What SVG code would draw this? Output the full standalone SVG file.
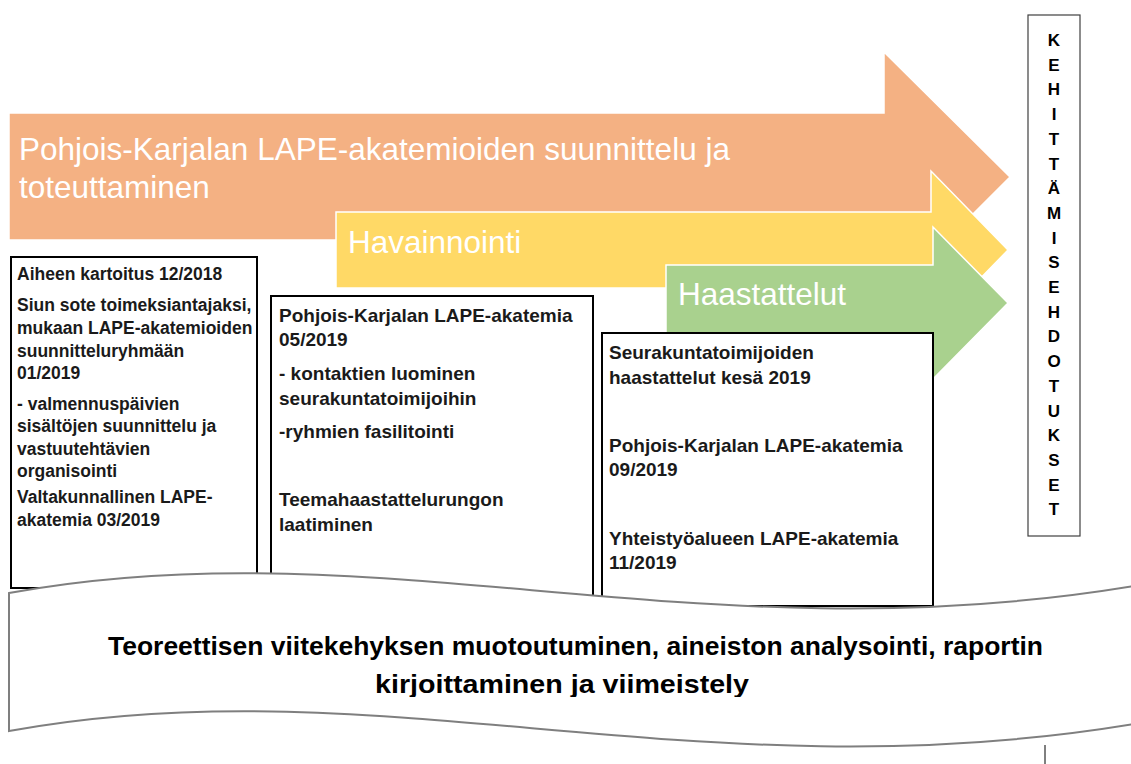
<svg xmlns="http://www.w3.org/2000/svg" width="1131" height="764" viewBox="0 0 1131 764">
  <style>
    .arrow { stroke: #ffffff; stroke-width: 1.5; }
    .atext { font-family: "Liberation Sans", Arial, sans-serif; font-size: 31.5px; fill: #ffffff; }
    .box { fill: #ffffff; stroke: #000000; stroke-width: 2; }
    .t1 { font-family: "Liberation Sans", Arial, sans-serif; font-weight: bold; font-size: 17.5px; fill: #1a1a1a; }
    .t2 { font-family: "Liberation Sans", Arial, sans-serif; font-weight: bold; font-size: 19px; fill: #1a1a1a; }
    .bt { font-family: "Liberation Sans", Arial, sans-serif; font-weight: bold; font-size: 25px; fill: #000000; }
    .vt { font-family: "Liberation Sans", Arial, sans-serif; font-weight: bold; font-size: 17px; fill: #000000; text-anchor: middle; }
  </style>
  <defs>
    <clipPath id="bannerClip">
      <rect x="0" y="600" width="1131" height="97"/>
    </clipPath>
  </defs>
  <rect x="0" y="0" width="1131" height="764" fill="#ffffff"/>

  <g id="arrow-orange">
    <path class="arrow" fill="#F4B183" d="M9,113 L884,113 L884,52 L1010,177 L884,303 L884,240 L9,240 Z"/>
    <text class="atext" x="19" y="160">Pohjois-Karjalan LAPE-akatemioiden suunnittelu ja</text>
    <text class="atext" x="19" y="198">toteuttaminen</text>
  </g>
  <g id="arrow-yellow">
    <path class="arrow" fill="#FFD966" d="M336,212 L931,212 L931,171 L1008,250 L931,329 L931,288 L336,288 Z"/>
    <text class="atext" x="348" y="253">Havainnointi</text>
  </g>
  <g id="arrow-green">
    <path class="arrow" fill="#A9D18E" d="M666,265 L933,265 L933,227 L1008,303 L933,379 L933,341 L666,341 Z"/>
    <text class="atext" x="678" y="305">Haastattelut</text>
  </g>

  <g id="box-1">
    <rect class="box" x="11" y="257" width="246" height="331"/>
    <text class="t1" x="17" y="280">Aiheen kartoitus 12/2018</text>
    <text class="t1" x="17" y="311">Siun sote toimeksiantajaksi,</text>
    <text class="t1" x="17" y="334">mukaan LAPE-akatemioiden</text>
    <text class="t1" x="17" y="357">suunnitteluryhmään</text>
    <text class="t1" x="17" y="379">01/2019</text>
    <text class="t1" x="17" y="410">- valmennuspäivien</text>
    <text class="t1" x="17" y="432">sisältöjen suunnittelu ja</text>
    <text class="t1" x="17" y="455">vastuutehtävien</text>
    <text class="t1" x="17" y="477">organisointi</text>
    <text class="t1" x="17" y="503">Valtakunnallinen LAPE-</text>
    <text class="t1" x="17" y="526">akatemia 03/2019</text>
  </g>

  <g id="box-2">
    <rect class="box" x="271" y="296" width="322" height="310"/>
    <text class="t2" x="279" y="322">Pohjois-Karjalan LAPE-akatemia</text>
    <text class="t2" x="279" y="346">05/2019</text>
    <text class="t2" x="279" y="380">- kontaktien luominen</text>
    <text class="t2" x="279" y="405">seurakuntatoimijoihin</text>
    <text class="t2" x="279" y="438">-ryhmien fasilitointi</text>
    <text class="t2" x="279" y="506">Teemahaastattelurungon</text>
    <text class="t2" x="279" y="531">laatiminen</text>
  </g>

  <g id="box-3">
    <rect class="box" x="602" y="333" width="331" height="273"/>
    <text class="t2" x="609" y="359">Seurakuntatoimijoiden</text>
    <text class="t2" x="609" y="384">haastattelut kesä 2019</text>
    <text class="t2" x="609" y="452">Pohjois-Karjalan LAPE-akatemia</text>
    <text class="t2" x="609" y="476">09/2019</text>
    <text class="t2" x="609" y="545">Yhteistyöalueen LAPE-akatemia</text>
    <text class="t2" x="609" y="569">11/2019</text>
  </g>

  <g id="banner">
    <path d="M9,593 C380,525 700,660 1140,585 L1140,723 C700,798 380,663 9,731 Z" fill="#ffffff" stroke="#7f7f7f" stroke-width="2"/>
    <g clip-path="url(#bannerClip)">
      <text class="bt" x="108" y="655" textLength="935" lengthAdjust="spacingAndGlyphs">Teoreettisen viitekehyksen muotoutuminen, aineiston analysointi, raportin</text>
      <text class="bt" x="375" y="693" textLength="374" lengthAdjust="spacingAndGlyphs">kirjoittaminen ja viimeistely</text>
    </g>
  </g>

  <g id="side-box">
    <rect x="1028" y="15" width="52" height="521" fill="#ffffff" stroke="#404040" stroke-width="1.2"/>
    <text class="vt" x="1054" y="46">K<tspan x="1054" dy="24.7">E</tspan><tspan x="1054" dy="24.7">H</tspan><tspan x="1054" dy="24.7">I</tspan><tspan x="1054" dy="24.7">T</tspan><tspan x="1054" dy="24.7">T</tspan><tspan x="1054" dy="24.7">Ä</tspan><tspan x="1054" dy="24.7">M</tspan><tspan x="1054" dy="24.7">I</tspan><tspan x="1054" dy="24.7">S</tspan><tspan x="1054" dy="24.7">E</tspan><tspan x="1054" dy="24.7">H</tspan><tspan x="1054" dy="24.7">D</tspan><tspan x="1054" dy="24.7">O</tspan><tspan x="1054" dy="24.7">T</tspan><tspan x="1054" dy="24.7">U</tspan><tspan x="1054" dy="24.7">K</tspan><tspan x="1054" dy="24.7">S</tspan><tspan x="1054" dy="24.7">E</tspan><tspan x="1054" dy="24.7">T</tspan></text>
  </g>

  <g id="connectors">
    <line x1="1045" y1="745" x2="1045" y2="764" stroke="#000000" stroke-width="1"/>
  </g>
</svg>
